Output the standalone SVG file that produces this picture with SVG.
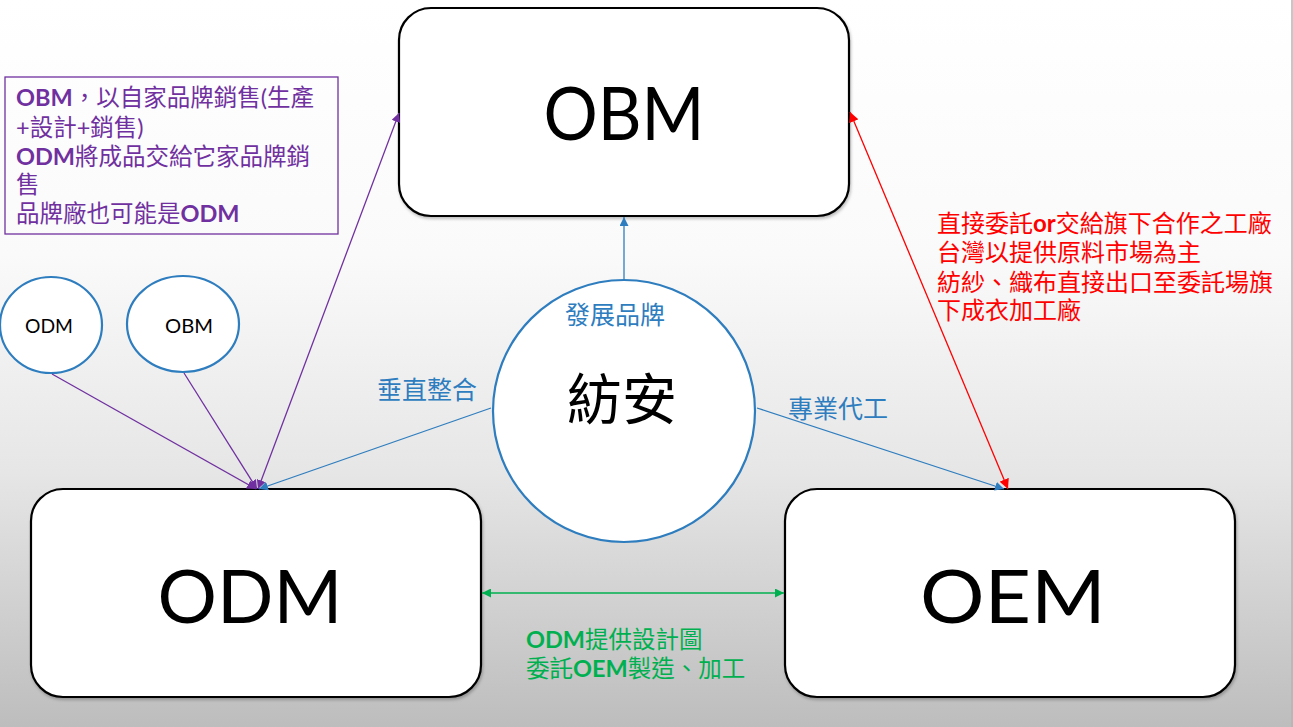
<svg xmlns="http://www.w3.org/2000/svg" width="1293" height="727" viewBox="0 0 1293 727">
<defs>
<linearGradient id="bg" x1="0" y1="0" x2="0" y2="1">
<stop offset="0" stop-color="#ffffff"/>
<stop offset="0.35" stop-color="#fafafa"/>
<stop offset="0.65" stop-color="#e6e6e6"/>
<stop offset="1" stop-color="#bdbdbd"/>
</linearGradient>
<filter id="sh" x="-5%" y="-5%" width="110%" height="115%">
<feDropShadow dx="1" dy="2" stdDeviation="1.5" flood-color="#000" flood-opacity="0.25"/>
</filter>
<marker id="mBlue" viewBox="0 0 10 10" refX="10" refY="5" markerWidth="9" markerHeight="9" markerUnits="userSpaceOnUse" orient="auto-start-reverse"><path d="M0,0 L10,5 L0,10 z" fill="#2e7dbf"/></marker>
<marker id="mPurple" viewBox="0 0 10 10" refX="10" refY="5" markerWidth="9" markerHeight="9" markerUnits="userSpaceOnUse" orient="auto-start-reverse"><path d="M0,0 L10,5 L0,10 z" fill="#7030a0"/></marker>
<marker id="mRed" viewBox="0 0 10 10" refX="10" refY="5" markerWidth="10" markerHeight="10" markerUnits="userSpaceOnUse" orient="auto-start-reverse"><path d="M0,0 L10,5 L0,10 z" fill="#ff0000"/></marker>
<marker id="mGreen" viewBox="0 0 10 10" refX="10" refY="5" markerWidth="9" markerHeight="9" markerUnits="userSpaceOnUse" orient="auto-start-reverse"><path d="M0,0 L10,5 L0,10 z" fill="#00b050"/></marker>
</defs>
<style>
.box{fill:#ffffff;stroke:#000;stroke-width:2.2;}
.big{font-family:Lato,"Liberation Sans",sans-serif;font-size:74px;fill:#000;text-anchor:middle;}
.small{font-family:Lato,"Liberation Sans",sans-serif;font-size:20px;fill:#000;text-anchor:middle;}
.ell{fill:#ffffff;stroke:#2e7dbf;stroke-width:2.2;}
.cjk{font-family:Lato,"Noto Sans CJK TC","Noto Sans CJK SC",sans-serif;font-size:23.5px;}
.b{font-weight:bold;}
.blue{fill:#2e7dbf;font-size:25px;text-anchor:middle;}
.purple{fill:#7030a0;}
.red{fill:#ff0000;font-size:24px;}
.green{fill:#00b050;font-size:23.5px;}
.cb{stroke:#2e7dbf;stroke-width:1.3;fill:none;}
.cp{stroke:#7030a0;stroke-width:1.3;fill:none;}
.cr{stroke:#ff0000;stroke-width:1.3;fill:none;}
.cg{stroke:#00b050;stroke-width:1.3;fill:none;}
</style>
<rect x="0" y="0" width="1293" height="727" fill="url(#bg)"/>
<line x1="1292" y1="0" x2="1292" y2="727" stroke="#b4b4b4" stroke-width="1.5"/>

<g id="node-obm">
<rect class="box" x="399" y="8" width="450" height="208" rx="32" filter="url(#sh)"/>
<text class="big" x="624" y="140" textLength="161" lengthAdjust="spacingAndGlyphs">OBM</text>
</g>
<g id="node-odm">
<rect class="box" x="31" y="489" width="450" height="208" rx="32" filter="url(#sh)"/>
<text class="big" x="250" y="623" textLength="185" lengthAdjust="spacingAndGlyphs">ODM</text>
</g>
<g id="node-oem">
<rect class="box" x="785" y="489" width="450" height="208" rx="32" filter="url(#sh)"/>
<text class="big" x="1013" y="623" textLength="186" lengthAdjust="spacingAndGlyphs">OEM</text>
</g>
<g id="node-small-odm">
<ellipse class="ell" cx="51" cy="325" rx="51" ry="48"/>
<text class="small" x="49" y="333" textLength="48" lengthAdjust="spacingAndGlyphs">ODM</text>
</g>
<g id="node-small-obm">
<ellipse class="ell" cx="183" cy="324" rx="56" ry="48"/>
<text class="small" x="189" y="333" textLength="48" lengthAdjust="spacingAndGlyphs">OBM</text>
</g>
<g id="node-fangan">
<circle class="ell" cx="624" cy="411" r="131"/>
<text x="622" y="419" font-family="'Noto Sans CJK TC','Noto Sans CJK SC',serif" font-size="55" fill="#000" text-anchor="middle">紡安</text>
</g>

<g id="connectors">
<line class="cb" x1="624" y1="280" x2="624" y2="217" marker-end="url(#mBlue)"/>
<line class="cb" x1="491" y1="408" x2="259" y2="489" marker-end="url(#mBlue)"/>
<line class="cb" x1="757" y1="408" x2="1004" y2="489" marker-end="url(#mBlue)"/>
<line class="cr" x1="850" y1="112" x2="1008" y2="489" marker-start="url(#mRed)" marker-end="url(#mRed)"/>
<line class="cp" x1="258" y1="489" x2="399" y2="113" marker-start="url(#mPurple)" marker-end="url(#mPurple)"/>
<line class="cp" x1="52" y1="374" x2="256" y2="489" marker-end="url(#mPurple)"/>
<line class="cp" x1="184" y1="373" x2="257" y2="489" marker-end="url(#mPurple)"/>
<line class="cg" x1="482" y1="593" x2="784" y2="593" marker-start="url(#mGreen)" marker-end="url(#mGreen)"/>
</g>

<g id="label-purple">
<rect x="5" y="77" width="333" height="157" fill="none" stroke="#7030a0" stroke-width="1.3"/>
<text class="cjk purple" x="16" y="106"><tspan class="b">OBM</tspan>，以自家品牌銷售(生產</text>
<text class="cjk purple" x="16" y="136">+設計+銷售)</text>
<text class="cjk purple" x="16" y="165"><tspan class="b">ODM</tspan>將成品交給它家品牌銷</text>
<text class="cjk purple" x="16" y="193">售</text>
<text class="cjk purple" x="16" y="222">品牌廠也可能是<tspan class="b">ODM</tspan></text>
</g>
<g id="label-red">
<text class="cjk red" x="937" y="232">直接委託<tspan class="b">or</tspan>交給旗下合作之工廠</text>
<text class="cjk red" x="937" y="261">台灣以提供原料市場為主</text>
<text class="cjk red" x="937" y="291">紡紗、織布直接出口至委託場旗</text>
<text class="cjk red" x="937" y="319">下成衣加工廠</text>
</g>
<g id="label-green">
<text class="cjk green" x="526" y="648"><tspan class="b">ODM</tspan>提供設計圖</text>
<text class="cjk green" x="526" y="677">委託<tspan class="b">OEM</tspan>製造、加工</text>
</g>
<g id="label-blue">
<text class="cjk blue" x="615" y="324">發展品牌</text>
<text class="cjk blue" x="427" y="399">垂直整合</text>
<text class="cjk blue" x="838" y="418">專業代工</text>
</g>
</svg>
